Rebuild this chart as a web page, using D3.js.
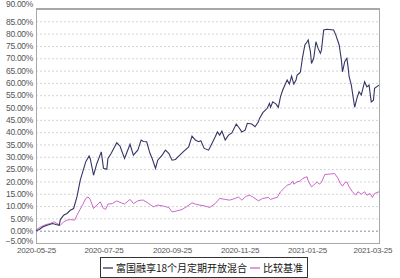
<!DOCTYPE html>
<html>
<head>
<meta charset="utf-8">
<script src="https://cdn.jsdelivr.net/npm/d3@7"></script>
<style>
  body { margin: 0; background: #fff; }
  svg { display: block; }
</style>
</head>
<body>
<svg id="chart" width="400" height="278"></svg>
<script>
'use strict'

// fund (富国融享18个月定期开放混合) cumulative return, %
var fundDates = ["2020-05-25","2020-05-28","2020-05-31","2020-06-04","2020-06-09","2020-06-12","2020-06-15","2020-06-16","2020-06-19","2020-06-22",
  "2020-06-25","2020-06-28","2020-07-01","2020-07-04","2020-07-09","2020-07-12","2020-07-13","2020-07-16","2020-07-19","2020-07-23",
  "2020-07-25","2020-07-28","2020-07-29","2020-08-01","2020-08-06","2020-08-09","2020-08-13","2020-08-18","2020-08-21","2020-08-25",
  "2020-08-28","2020-08-30","2020-09-02","2020-09-05","2020-09-07","2020-09-10","2020-09-12","2020-09-16","2020-09-19","2020-09-22",
  "2020-09-25","2020-09-28","2020-10-01","2020-10-05","2020-10-10","2020-10-13","2020-10-16","2020-10-19","2020-10-21","2020-10-24",
  "2020-10-28","2020-10-31","2020-11-03","2020-11-05","2020-11-07","2020-11-09","2020-11-12","2020-11-15","2020-11-18","2020-11-22",
  "2020-11-25","2020-11-27","2020-11-30","2020-12-02","2020-12-06","2020-12-09","2020-12-12","2020-12-13","2020-12-16","2020-12-20",
  "2020-12-22","2020-12-23","2020-12-25","2020-12-28","2020-12-30","2021-01-01","2021-01-03","2021-01-07","2021-01-09","2021-01-11",
  "2021-01-13","2021-01-15","2021-01-16","2021-01-18","2021-01-19","2021-01-21","2021-01-23","2021-01-25","2021-01-26","2021-01-28",
  "2021-01-29","2021-01-31","2021-02-02","2021-02-04","2021-02-06","2021-02-07","2021-02-09","2021-02-12","2021-02-18","2021-02-20",
  "2021-02-23","2021-02-25","2021-02-26","2021-02-28","2021-03-02","2021-03-03","2021-03-04","2021-03-06","2021-03-09","2021-03-11",
  "2021-03-13","2021-03-15","2021-03-18","2021-03-20","2021-03-22","2021-03-24","2021-03-26","2021-03-27","2021-03-31"];
var fundValues = [0.0,0.5,1.5,2.2,2.9,2.5,2.2,4.5,6.3,7.0,
  8.3,9.0,13.7,20.5,28.0,30.3,29.3,22.5,27.3,32.0,
  25.3,24.9,29.3,31.4,35.7,34.3,29.3,35.1,30.7,32.7,
  36.8,36.2,36.1,31.4,29.3,25.3,28.6,30.7,32.7,31.4,
  28.6,28.9,30.3,32.0,34.0,38.4,36.8,36.1,36.5,33.4,
  32.7,35.4,38.1,40.1,38.8,40.4,36.8,38.8,39.7,43.3,
  41.5,40.1,40.8,43.6,43.3,42.2,44.2,45.6,47.9,49.7,
  51.7,50.1,52.3,51.4,50.1,54.4,57.1,61.2,59.5,62.8,
  59.5,61.2,63.2,63.9,64.5,70.6,75.4,76.7,77.4,72.7,
  67.9,70.0,76.7,74.0,72.0,73.3,81.5,81.8,81.5,79.4,
  75.4,69.3,64.5,68.6,70.0,66.6,62.5,59.1,50.1,53.7,
  56.4,55.1,60.5,58.4,59.1,52.3,53.0,57.8,59.1];

// benchmark (比较基准), %
var benchDates = ["2020-05-25","2020-05-29","2020-06-03","2020-06-07","2020-06-10","2020-06-13","2020-06-16","2020-06-19","2020-06-22","2020-06-25",
  "2020-06-29","2020-07-01","2020-07-06","2020-07-09","2020-07-11","2020-07-13","2020-07-16","2020-07-19","2020-07-22","2020-07-25",
  "2020-07-27","2020-07-29","2020-08-02","2020-08-06","2020-08-10","2020-08-13","2020-08-18","2020-08-21","2020-08-25","2020-08-28",
  "2020-08-30","2020-09-03","2020-09-08","2020-09-12","2020-09-17","2020-09-22","2020-09-25","2020-09-29","2020-10-04","2020-10-08",
  "2020-10-13","2020-10-16","2020-10-20","2020-10-25","2020-10-29","2020-11-03","2020-11-07","2020-11-12","2020-11-16","2020-11-21",
  "2020-11-24","2020-11-27","2020-12-01","2020-12-04","2020-12-07","2020-12-12","2020-12-16","2020-12-21","2020-12-23","2020-12-27",
  "2020-12-29","2021-01-01","2021-01-04","2021-01-07","2021-01-10","2021-01-12","2021-01-13","2021-01-16","2021-01-19","2021-01-21",
  "2021-01-25","2021-01-26","2021-01-29","2021-01-31","2021-02-03","2021-02-05","2021-02-07","2021-02-10","2021-02-15","2021-02-19",
  "2021-02-22","2021-02-24","2021-02-26","2021-02-28","2021-03-02","2021-03-04","2021-03-07","2021-03-10","2021-03-12","2021-03-15",
  "2021-03-18","2021-03-20","2021-03-23","2021-03-25","2021-03-27","2021-03-31"];
var benchValues = [0.3,1.5,2.5,2.9,3.6,2.9,2.2,3.6,4.3,4.5,
  4.3,6.3,10.4,13.1,13.7,12.7,9.0,10.4,11.7,9.0,
  8.7,10.8,11.0,12.1,11.3,10.8,12.7,11.0,12.1,12.4,
  12.4,11.3,9.7,10.4,10.0,9.4,7.6,8.0,8.6,9.7,
  11.3,10.8,10.4,10.0,9.4,11.0,13.1,12.7,12.4,13.1,
  13.7,12.4,14.0,14.4,13.7,12.1,13.1,13.5,12.7,13.3,
  13.5,15.8,17.1,18.5,18.9,20.2,18.9,19.8,20.2,21.2,
  21.9,20.2,17.8,18.5,19.8,18.9,19.6,22.8,23.0,23.2,
  21.2,19.2,18.1,19.4,19.8,17.8,15.8,14.4,15.8,14.8,
  15.8,14.4,15.1,13.5,15.1,15.8];

var xTickLabels = ["2020-05-25","2020-07-25","2020-09-25","2020-11-25","2021-01-25","2021-03-25"];
var yTicks = [-5,0,5,10,15,20,25,30,35,40,45,50,55,60,65,70,75,80,85,90];
var seriesNames = ["富国融享18个月定期开放混合", "比较基准"];

var parseDate = d3.timeParse("%Y-%m-%d");
var fmtDate = d3.timeFormat("%Y-%m-%d");

var plotLeft = 36, plotRight = 379, plotTop = 9, plotBottom = 243;
var fundColor = "#353566", benchColor = "#cc66cc";

var svg = d3.select("#chart");

var x = d3.scaleTime()
    .domain([parseDate("2020-05-25"), parseDate("2021-03-31")])
    .range([plotLeft, plotRight]);
var y = d3.scaleLinear().domain([-5, 90]).range([plotBottom, plotTop]);

// grid
svg.append("g").selectAll("line")
    .data(yTicks.filter(function(d){ return d > -5 && d < 90; }))
    .enter().append("line")
    .attr("x1", plotLeft).attr("x2", plotRight)
    .attr("y1", function(d){ return y(d) + 0.5; })
    .attr("y2", function(d){ return y(d) + 0.5; })
    .attr("stroke", function(d){ return d === 0 ? "#8a8aa8" : "#d4d4d4"; })
    .attr("stroke-dasharray", "2,2")
    .attr("stroke-width", 1);

// frame
svg.append("rect")
    .attr("x", plotLeft + 0.5).attr("y", plotTop + 0.5)
    .attr("width", plotRight - plotLeft).attr("height", plotBottom - plotTop)
    .attr("fill", "none").attr("stroke", "#a8a8a8");
svg.append("line")
    .attr("x1", plotLeft).attr("x2", plotRight + 1)
    .attr("y1", plotTop).attr("y2", plotTop)
    .attr("stroke", "#a8a8a8").attr("stroke-width", 2);

// y labels
var yAxis = svg.append("g")
    .attr("transform", "translate(" + (plotLeft - 2) + ",0)")
    .call(d3.axisLeft(y).tickValues(yTicks).tickSize(0).tickPadding(1)
        .tickFormat(function(d){ return d3.format(".2f")(d) + "%"; }));
yAxis.select(".domain").remove();
yAxis.selectAll("text")
    .attr("fill", "#555")
    .style("font-family", "'Liberation Sans', sans-serif")
    .style("font-size", "8.5px")
    .style("letter-spacing", "-0.3px")
    .attr("dy", function(d){
        if (d === 90) return "-0.35em";
        if (d === -5) return "0.05em";
        return "0.32em";
    });

// x labels
var xAxis = svg.append("g")
    .attr("transform", "translate(0," + plotBottom + ")")
    .call(d3.axisBottom(x).tickValues(xTickLabels.map(parseDate)).tickSize(0).tickPadding(4)
        .tickFormat(fmtDate));
xAxis.select(".domain").remove();
xAxis.selectAll("text")
    .attr("fill", "#555")
    .style("font-family", "'Liberation Sans', sans-serif")
    .style("font-size", "8px")
    .style("letter-spacing", "-0.2px");

// lines
var line = d3.line()
    .x(function(d){ return x(d[0]); })
    .y(function(d){ return y(d[1]); });

var benchData = benchDates.map(function(d, i){ return [parseDate(d), benchValues[i]]; });
var fundData = fundDates.map(function(d, i){ return [parseDate(d), fundValues[i]]; });

svg.append("path").datum(benchData)
    .attr("d", line).attr("fill", "none")
    .attr("stroke", benchColor).attr("stroke-width", 1);
svg.append("path").datum(fundData)
    .attr("d", line).attr("fill", "none")
    .attr("stroke", fundColor).attr("stroke-width", 1.1);

// legend
var legend = svg.append("g");
legend.append("rect")
    .attr("x", 100.5).attr("y", 257.5).attr("width", 207).attr("height", 20)
    .attr("fill", "#fff").attr("stroke", "#333");
var legendItems = [
    {name: seriesNames[0], color: fundColor, x: 103},
    {name: seriesNames[1], color: benchColor, x: 250}
];
legendItems.forEach(function(it){
    legend.append("line")
        .attr("x1", it.x).attr("x2", it.x + 10)
        .attr("y1", 268).attr("y2", 268)
        .attr("stroke", it.color).attr("stroke-width", 1.3);
    legend.append("text")
        .attr("x", it.x + 13).attr("y", 268).attr("dy", "0.35em")
        .attr("fill", "#111")
        .style("font-family", "'Noto Sans CJK SC', sans-serif")
        .style("font-size", "10px")
        .text(it.name);
});
</script>
</body>
</html>
